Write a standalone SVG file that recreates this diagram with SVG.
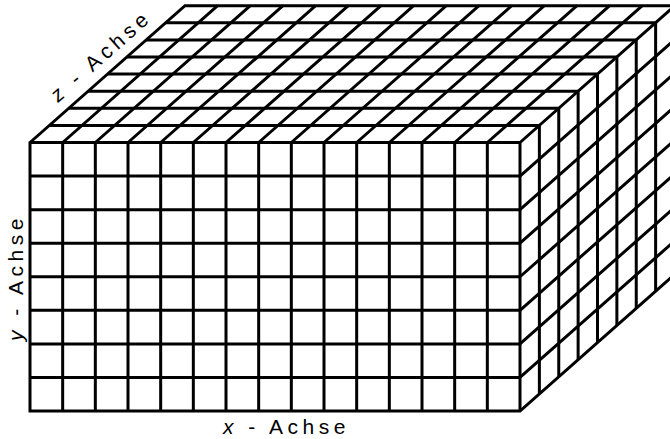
<svg xmlns="http://www.w3.org/2000/svg" width="670" height="439" viewBox="0 0 670 439">
<style>
.g{fill:none;stroke:#000;stroke-width:3;stroke-linecap:butt;stroke-linejoin:miter}
.t{font-family:"Liberation Sans",Arial,sans-serif;font-size:21px;letter-spacing:4.5px;fill:#000}
.v{font-style:italic}
</style>
<rect width="670" height="439" fill="#fff"/>
<g id="front-face" class="g">
<path d="M62.67 142.5V411M95.33 142.5V411M128 142.5V411M160.67 142.5V411M193.33 142.5V411M226 142.5V411M258.67 142.5V411M291.33 142.5V411M324 142.5V411M356.67 142.5V411M389.33 142.5V411M422 142.5V411M454.67 142.5V411M487.33 142.5V411"/>
<path d="M30 176.06H520M30 209.63H520M30 243.19H520M30 276.75H520M30 310.31H520M30 343.88H520M30 377.44H520"/>
</g>
<g id="top-face" class="g">
<path d="M62.67 142.5l155 -136.8M95.33 142.5l155 -136.8M128 142.5l155 -136.8M160.67 142.5l155 -136.8M193.33 142.5l155 -136.8M226 142.5l155 -136.8M258.67 142.5l155 -136.8M291.33 142.5l155 -136.8M324 142.5l155 -136.8M356.67 142.5l155 -136.8M389.33 142.5l155 -136.8M422 142.5l155 -136.8M454.67 142.5l155 -136.8M487.33 142.5l155 -136.8"/>
<path d="M49.375 125.4H539.375M68.75 108.3H558.75M88.125 91.2H578.125M107.5 74.1H597.5M126.875 57H616.875M146.25 39.9H636.25M165.625 22.8H655.625"/>
</g>
<g id="right-face" class="g">
<path d="M539.375 125.4V393.9M558.75 108.3V376.8M578.125 91.2V359.7M597.5 74.1V342.6M616.875 57V325.5M636.25 39.9V308.4M655.625 22.8V291.3"/>
<path d="M520 176.06l155 -136.8M520 209.63l155 -136.8M520 243.19l155 -136.8M520 276.75l155 -136.8M520 310.31l155 -136.8M520 343.88l155 -136.8M520 377.44l155 -136.8"/>
</g>
<g id="edges" class="g">
<path d="M30 142.5L185 5.7H675V274.2L520 411H30Z"/>
<path d="M30 142.5H520V411M520 142.5L675 5.7"/>
</g>
<g id="labels">
<text class="t" x="223" y="434"><tspan class="v">x</tspan> - Achse</text>
<text class="t" transform="translate(23,341) rotate(-90)"><tspan class="v">y</tspan> - Achse</text>
<text class="t" transform="translate(58,103) rotate(-41.4)"><tspan class="v">z</tspan> - Achse</text>
</g>
</svg>
